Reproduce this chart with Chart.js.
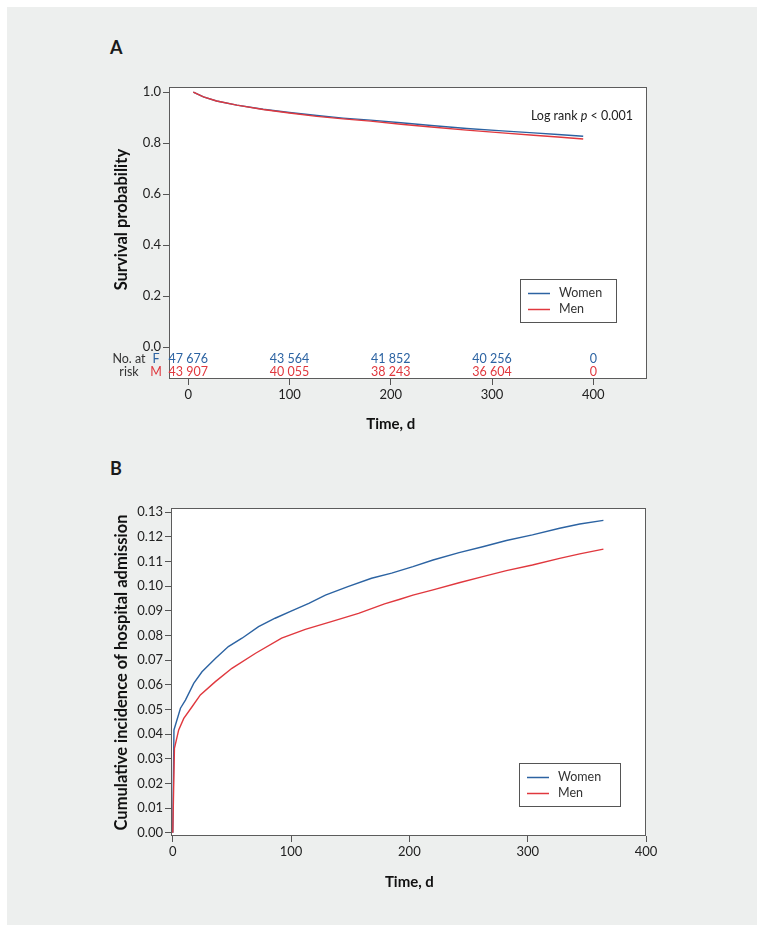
<!DOCTYPE html>
<html>
<head>
<meta charset="utf-8">
<script src="https://cdn.jsdelivr.net/npm/chart.js@4.4.1/dist/chart.umd.min.js"></script>
<style>
  html, body { margin: 0; padding: 0; background: #fff; }
  #page { position: relative; width: 765px; height: 933px; overflow: hidden; }
  #panel { position: absolute; left: 7px; top: 7px; width: 750px; height: 918px; background: #edefee; }
  canvas { position: absolute; left: 0; }
  #chartA { top: 60px; }
  #chartB { top: 480px; }
  .tag { position: absolute; left: 110px; font: bold 18px Lato, sans-serif; color: #1a1a1a; }
</style>
</head>
<body>
<div id="page">
  <div id="panel"></div>
  <div class="tag" style="top:36px">A</div>
  <div class="tag" style="top:457px">B</div>
  <canvas id="chartA" width="765" height="390"></canvas>
  <canvas id="chartB" width="765" height="453"></canvas>
</div>
<script>
// Panel A: survival probability by day
const survivalDays = [5, 15, 28, 48, 74, 100, 127, 153, 180, 210, 240, 275, 310, 341, 365, 390];
const survivalWomen = [1.0, 0.981, 0.965, 0.949, 0.933, 0.920, 0.908, 0.898, 0.890, 0.880, 0.869, 0.857, 0.848, 0.840, 0.834, 0.827];
const survivalMen = [1.0, 0.981, 0.965, 0.949, 0.932, 0.918, 0.905, 0.895, 0.886, 0.874, 0.863, 0.851, 0.840, 0.831, 0.824, 0.816];

// number at risk under panel A
const atRiskDays = [0, 100, 200, 300, 400];
const atRiskWomen = [47676, 43564, 41852, 40256, 0];
const atRiskMen = [43907, 40055, 38243, 36604, 0];

// Panel B: cumulative incidence of hospital admission
const incidenceDaysWomen = [0, 1, 6.5, 10.7, 17.7, 24.7, 36, 47, 58.5, 72.5, 86.5, 100, 115, 129, 148, 168, 185, 203, 220, 242, 262, 282, 304, 327, 344, 364];
const incidenceWomen = [0, 0.0417, 0.0505, 0.0538, 0.0606, 0.0653, 0.0707, 0.0755, 0.0789, 0.0836, 0.087, 0.0899, 0.093, 0.0964, 0.0998, 0.1032, 0.1053, 0.1079, 0.1106, 0.1136, 0.116, 0.1185, 0.1208, 0.1235, 0.1252, 0.1267];
const incidenceDaysMen = [0, 1.4, 5, 9.3, 16.3, 23.3, 36, 50, 70, 92, 112, 134, 157, 179, 192, 203, 220, 242, 262, 282, 304, 327, 344, 364];
const incidenceMen = [0, 0.0342, 0.0417, 0.0464, 0.0511, 0.0559, 0.0613, 0.0667, 0.0728, 0.0789, 0.0825, 0.0856, 0.089, 0.0928, 0.0947, 0.0964, 0.0985, 0.1014, 0.1039, 0.1063, 0.1086, 0.1113, 0.1131, 0.115];

// tick labels
const dayTicks = [0, 100, 200, 300, 400];
const survivalTicks = [0, 0.2, 0.4, 0.6, 0.8, 1.0];
const incidenceTicks = [0, 0.01, 0.02, 0.03, 0.04, 0.05, 0.06, 0.07, 0.08, 0.09, 0.10, 0.11, 0.12, 0.13];

const seriesLabels = ['Women', 'Men'];
const WOMEN = '#2c63a2';
const MEN = '#e0383e';

Chart.defaults.font.family = 'Lato, sans-serif';
Chart.defaults.color = '#222';

const toPoints = (xs, ys) => xs.map((x, i) => ({ x, y: ys[i] }));
const grouped = n => String(n).replace(/\B(?=(\d{3})+(?!\d))/g, ' ');

// white plot area, frame, axis titles and the boxed legend
const panelDecor = {
  id: 'panelDecor',
  beforeDraw(chart) {
    const { ctx, chartArea: a } = chart;
    ctx.save();
    ctx.fillStyle = '#fff';
    ctx.fillRect(a.left, a.top, a.right - a.left, a.bottom - a.top);
    ctx.restore();
  },
  afterDraw(chart, args, opts) {
    const { ctx, chartArea: a, scales: { x, y } } = chart;
    ctx.save();
    ctx.strokeStyle = '#5c5c5c';
    ctx.lineWidth = 1;
    ctx.strokeRect(a.left + 0.5, a.top + 0.5, a.right - a.left - 1, a.bottom - a.top - 1);

    // axis titles, centred on the tick span
    ctx.fillStyle = '#111';
    ctx.textAlign = 'center';
    ctx.textBaseline = 'middle';
    ctx.font = 'bold 15px Lato, sans-serif';
    const cx = (x.getPixelForValue(opts.xTicks[0]) + x.getPixelForValue(opts.xTicks[opts.xTicks.length - 1])) / 2;
    ctx.fillText(opts.xTitle, cx, a.bottom + opts.xTitleGap);
    ctx.font = 'bold 16.5px Lato, sans-serif';
    const cy = (y.getPixelForValue(opts.yTicks[0]) + y.getPixelForValue(opts.yTicks[opts.yTicks.length - 1])) / 2;
    ctx.save();
    ctx.translate(a.left - opts.yTitleGap, cy);
    ctx.rotate(-Math.PI / 2);
    ctx.fillText(opts.yTitle, 0, 0);
    ctx.restore();

    // legend box
    const L = opts.legend;
    const lx = Math.round(a.right - L.right - L.width);
    const ly = Math.round(a.bottom - L.bottom - L.height);
    ctx.fillStyle = '#fff';
    ctx.fillRect(lx, ly, L.width, L.height);
    ctx.strokeStyle = '#555';
    ctx.strokeRect(lx + 0.5, ly + 0.5, L.width, L.height);
    ctx.font = '12.5px Lato, sans-serif';
    ctx.textAlign = 'left';
    chart.data.datasets.forEach((ds, i) => {
      const rowY = ly + 14 + i * 16;
      ctx.strokeStyle = ds.borderColor;
      ctx.lineWidth = 1.5;
      ctx.beginPath();
      ctx.moveTo(lx + 8, rowY + 0.5);
      ctx.lineTo(lx + 30, rowY + 0.5);
      ctx.stroke();
      ctx.fillStyle = '#333';
      ctx.fillText(ds.label, lx + 39, rowY);
    });
    ctx.restore();
  }
};

// log rank note and number-at-risk rows for panel A
const riskTable = {
  id: 'riskTable',
  afterDraw(chart) {
    const { ctx, chartArea: a, scales: { x } } = chart;
    ctx.save();
    ctx.font = '12.5px Lato, sans-serif';
    ctx.textBaseline = 'middle';
    ctx.textAlign = 'center';
    const rowF = a.bottom - 20;
    const rowM = a.bottom - 7;
    atRiskDays.forEach((d, i) => {
      const px = x.getPixelForValue(d);
      ctx.fillStyle = WOMEN;
      ctx.fillText(grouped(atRiskWomen[i]), px, rowF);
      ctx.fillStyle = MEN;
      ctx.fillText(grouped(atRiskMen[i]), px, rowM);
    });
    ctx.fillStyle = '#333';
    ctx.fillText('No. at', a.left - 40, rowF);
    ctx.fillText('risk', a.left - 40, rowM);
    ctx.fillStyle = WOMEN;
    ctx.fillText('F', a.left - 13, rowF);
    ctx.fillStyle = MEN;
    ctx.fillText('M', a.left - 13, rowM);

    // "Log rank p < 0.001", p in italics
    const parts = [['Log rank ', '12.5px Lato, sans-serif'], ['p', 'italic 12.5px Lato, sans-serif'], [' < 0.001', '12.5px Lato, sans-serif']];
    let total = 0;
    parts.forEach(([t, f]) => { ctx.font = f; total += ctx.measureText(t).width; });
    let tx = a.right - 14 - total;
    ctx.textAlign = 'left';
    ctx.fillStyle = '#222';
    parts.forEach(([t, f]) => {
      ctx.font = f;
      ctx.fillText(t, tx, a.top + 29);
      tx += ctx.measureText(t).width;
    });
    ctx.restore();
  }
};

function axis(min, max, ticks, fmt, fit) {
  return {
    type: 'linear',
    min, max,
    afterBuildTicks: s => { s.ticks = ticks.map(v => ({ value: v })); },
    afterFit: fit,
    grid: { drawOnChartArea: false, tickLength: 6, color: '#555' },
    border: { display: false },
    ticks: { font: { size: 13 }, color: '#222', padding: 2, maxRotation: 0, autoSkip: false, callback: fmt }
  };
}

function lineSet(label, color, points, order) {
  return { label, data: points, borderColor: color, borderWidth: 1.4, pointRadius: 0, tension: 0, fill: false, order };
}

new Chart(document.getElementById('chartA'), {
  type: 'line',
  data: {
    datasets: [
      lineSet(seriesLabels[0], WOMEN, toPoints(survivalDays, survivalWomen), 1),
      lineSet(seriesLabels[1], MEN, toPoints(survivalDays, survivalMen), 0)
    ]
  },
  options: {
    responsive: false,
    animation: false,
    layout: { padding: { left: 109, right: 118, top: 27, bottom: 41 } },
    scales: {
      x: axis(-19, 453, dayTicks, v => String(v), s => { s.height = 30; }),
      y: axis(-0.125, 1.02, survivalTicks, v => v.toFixed(1), s => { s.width = 60; })
    },
    plugins: {
      legend: { display: false },
      tooltip: { enabled: false },
      panelDecor: {
        xTitle: 'Time, d', yTitle: 'Survival probability',
        xTicks: dayTicks, yTicks: survivalTicks,
        xTitleGap: 45, yTitleGap: 47,
        legend: { right: 31, bottom: 57, width: 96, height: 43 }
      }
    }
  },
  plugins: [panelDecor, riskTable]
});

new Chart(document.getElementById('chartB'), {
  type: 'line',
  data: {
    datasets: [
      lineSet(seriesLabels[0], WOMEN, toPoints(incidenceDaysWomen, incidenceWomen), 1),
      lineSet(seriesLabels[1], MEN, toPoints(incidenceDaysMen, incidenceMen), 0)
    ]
  },
  options: {
    responsive: false,
    animation: false,
    layout: { padding: { left: 111, right: 119, top: 28, bottom: 67 } },
    scales: {
      x: axis(-1.5, 400, dayTicks, v => String(v), s => { s.height = 30; }),
      y: axis(-0.0013, 0.1317, incidenceTicks, v => v.toFixed(2), s => { s.width = 60; })
    },
    plugins: {
      legend: { display: false },
      tooltip: { enabled: false },
      panelDecor: {
        xTitle: 'Time, d', yTitle: 'Cumulative incidence of hospital admission',
        xTicks: dayTicks, yTicks: incidenceTicks,
        xTitleGap: 46, yTitleGap: 49,
        legend: { right: 26, bottom: 30, width: 101, height: 43 }
      }
    }
  },
  plugins: [panelDecor]
});
</script>
</body>
</html>
